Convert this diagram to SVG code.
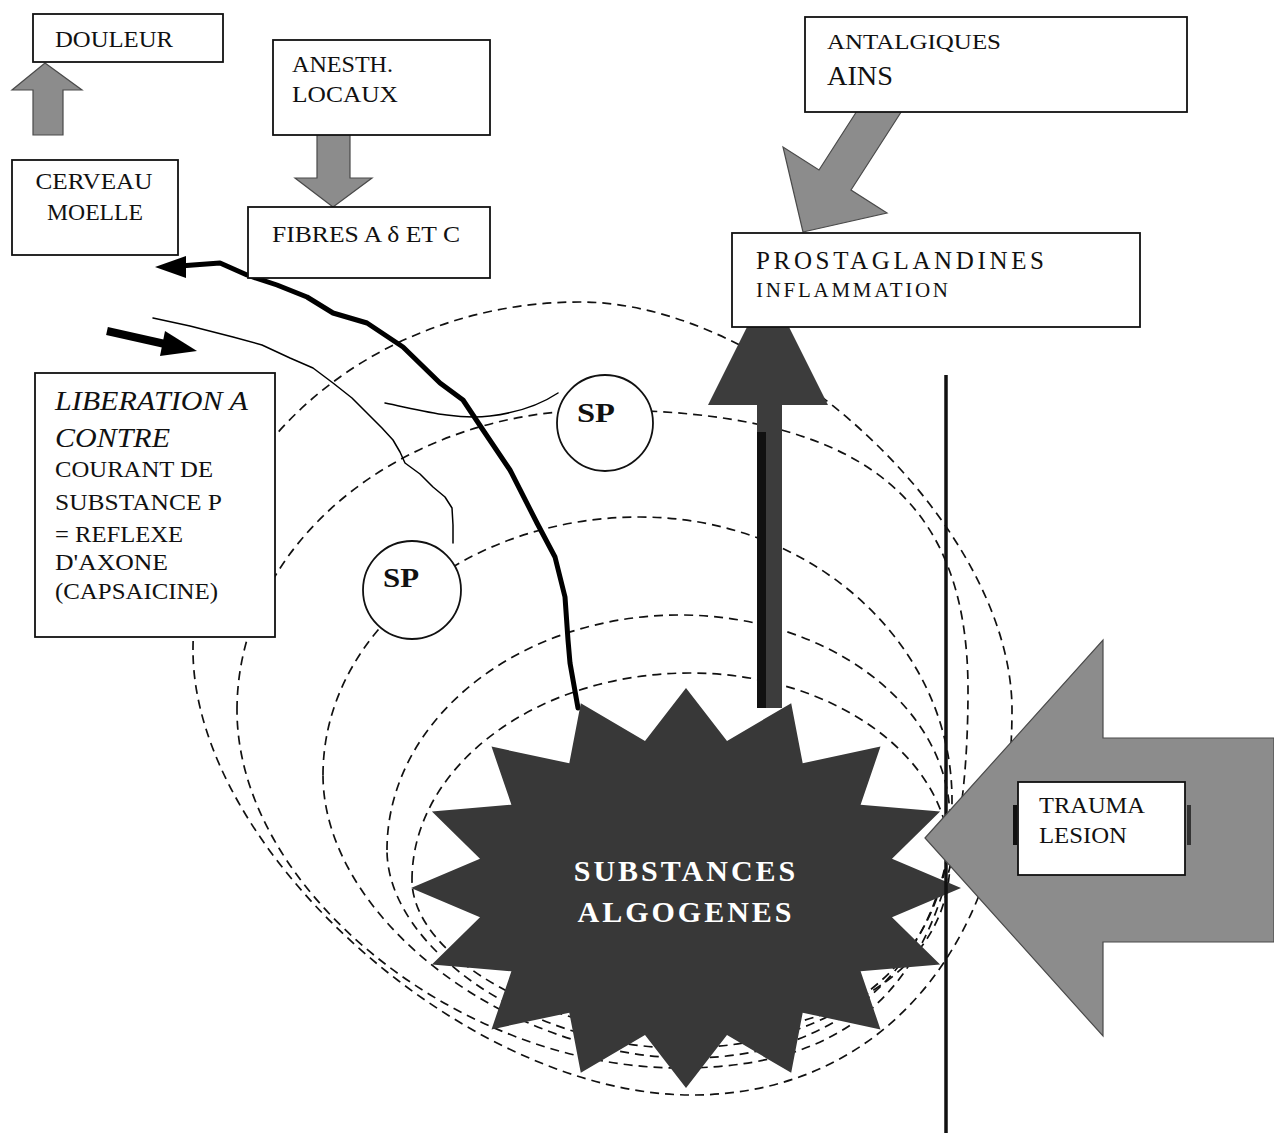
<svg xmlns="http://www.w3.org/2000/svg" width="1274" height="1135" viewBox="0 0 1274 1135">
<style>
.box{fill:#fff;stroke:#111;stroke-width:1.8}
.t{font-family:"Liberation Serif","Times New Roman",serif;fill:#111}
.ti{font-family:"Liberation Serif","Times New Roman",serif;font-style:italic;fill:#111}
.dash{fill:none;stroke:#111;stroke-width:1.7;stroke-dasharray:9 6;stroke-linejoin:round}
.grey{fill:#8c8c8c;stroke:#4a4a4a;stroke-width:1.2}
.dark{fill:#3c3c3c}
.fiber{fill:none;stroke:#000;stroke-linejoin:round;stroke-linecap:round}
.sp{fill:#fff;stroke:#111;stroke-width:1.8}
.spt{font-family:"Liberation Serif","Times New Roman",serif;font-weight:bold;fill:#111}
.wt{font-family:"Liberation Serif","Times New Roman",serif;font-weight:bold;fill:#fff}
</style>
<rect width="1274" height="1135" fill="#fff"/>

<g id="field-lines">
<path class="dash" d="M193,650 C193,458 366,302 580,302 C774,302 1012,526 1012,710 C1012,941 884,1095 692,1095 C467,1095 193,850 193,650 Z"/>
<path class="dash" d="M237,710 C237,544 400,410 600,410 C858,410 968,494 968,690 C968,955 882,1068 680,1068 C458,1068 237,889 237,710 Z"/>
<path class="dash" d="M323,775 C323,633 465,517 640,517 C812,517 952,644 952,800 C952,955 847,1058 690,1058 C507,1058 323,917 323,775 Z"/>
<path class="dash" d="M387,850 C387,720 518,615 680,615 C829,615 950,707 950,820 C950,957 842,1048 680,1048 C534,1048 387,949 387,850 Z"/>
<path class="dash" d="M412,880 C412,766 537,673 690,673 C833,673 950,757 950,860 C950,965 846,1035 690,1035 C551,1035 412,958 412,880 Z"/>
</g>

<g id="connectors">
<path id="fiber-thin-1" class="fiber" stroke-width="1.5" d="M153,318 L190,326 L233,337 L262,345 L290,358 L313,368 L333,383 L352,398 L367,413 L382,428 L393,440 L400,452 L405,463 L420,474 L433,487 L445,497 L452,508 L453,525 L453,543"/>
<path id="fiber-thin-2" class="fiber" stroke-width="1.5" d="M385,403 C420,410 455,420 490,416 C515,413 540,405 558,393"/>
<path id="fiber-main" class="fiber" stroke-width="5" d="M180,266 L193,265 L220,263 L247,275 L277,285 L307,297 L333,313 L367,323 L403,347 L440,383 L463,400 L483,430 L510,470 L537,523 L555,557 L565,597 L568,640 L570,663 L578,708"/>
<polygon id="fiber-main-head" points="155,267 186,256 186,278" fill="#000"/>
<g id="arrow-reflex">
<line x1="107" y1="331" x2="165" y2="344" stroke="#000" stroke-width="8"/>
<polygon points="197,351 165,331 160,356" fill="#000"/>
</g>
<polygon id="arrow-douleur" class="grey" points="45,63 82,90 63,90 63,135 33,135 33,90 12,90"/>
<polygon id="arrow-anesth" class="grey" points="317,130 350,130 350,178 372,178 333,207 295,178 317,178"/>
<polygon id="arrow-antalgiques" class="grey" points="803,232 887,213 851,190 932,64 900,44 819,170 783,147"/>
<g id="arrow-prostaglandines">
<polygon class="dark" points="768,285 828,405 782,405 782,708 757,708 757,405 708,405"/>
<rect x="757" y="432" width="9" height="276" fill="#111"/>
</g>
</g>

<g id="node-substances">
<polygon fill="#383838" points="961,888 892,858.7 940.1,811.5 860.6,804.7 880.5,746.6 802.7,763.3 791.2,703.2 727,740.9 686,688 645,740.9 580.8,703.2 569.3,763.3 491.5,746.6 511.4,804.7 431.9,811.5 480,858.7 411,888 480,917.3 431.9,964.5 511.4,971.3 491.5,1029.4 569.3,1012.7 580.8,1072.8 645,1035.1 686,1088 727,1035.1 791.2,1072.8 802.7,1012.7 880.5,1029.4 860.6,971.3 940.1,964.5 892,917.3"/>
<text class="wt" x="686" y="881" font-size="30" text-anchor="middle" letter-spacing="3">SUBSTANCES</text>
<text class="wt" x="686" y="922" font-size="30" text-anchor="middle" letter-spacing="3">ALGOGENES</text>
</g>

<line id="barrier" x1="946" y1="375" x2="946" y2="1133" stroke="#111" stroke-width="3.5"/>

<g id="node-trauma">
<polygon class="grey" points="925,838 1103,640 1103,738 1274,738 1274,942 1103,942 1103,1036"/>
<rect class="box" x="1018" y="782" width="167" height="93"/>
<rect x="1013" y="805" width="4" height="40" fill="#111"/>
<rect x="1187" y="805" width="4" height="40" fill="#333"/>
<text class="t" x="1039" y="813" font-size="24" textLength="106" lengthAdjust="spacingAndGlyphs">TRAUMA</text>
<text class="t" x="1039" y="843" font-size="24" textLength="88" lengthAdjust="spacingAndGlyphs">LESION</text>
</g>

<g id="node-sp-upper">
<circle class="sp" cx="605" cy="423" r="48"/>
<text class="spt" x="577" y="422" font-size="28" textLength="38" lengthAdjust="spacingAndGlyphs">SP</text>
</g>
<g id="node-sp-lower">
<circle class="sp" cx="412" cy="590" r="49"/>
<text class="spt" x="383" y="587" font-size="28" textLength="36" lengthAdjust="spacingAndGlyphs">SP</text>
</g>

<g id="node-douleur">
<rect class="box" x="33" y="14" width="190" height="48"/>
<text class="t" x="55" y="47" font-size="23" textLength="118" lengthAdjust="spacingAndGlyphs">DOULEUR</text>
</g>
<g id="node-cerveau">
<rect class="box" x="12" y="160" width="166" height="95"/>
<text class="t" x="94" y="189" font-size="24" text-anchor="middle" textLength="117" lengthAdjust="spacingAndGlyphs">CERVEAU</text>
<text class="t" x="95" y="220" font-size="24" text-anchor="middle" textLength="96" lengthAdjust="spacingAndGlyphs">MOELLE</text>
</g>
<g id="node-anesth">
<rect class="box" x="273" y="40" width="217" height="95"/>
<text class="t" x="292" y="72" font-size="24" textLength="101" lengthAdjust="spacingAndGlyphs">ANESTH.</text>
<text class="t" x="292" y="102" font-size="24" textLength="106" lengthAdjust="spacingAndGlyphs">LOCAUX</text>
</g>
<g id="node-fibres">
<rect class="box" x="248" y="207" width="242" height="71"/>
<text class="t" x="272" y="242" font-size="24" textLength="188" lengthAdjust="spacingAndGlyphs">FIBRES A δ  ET C</text>
</g>
<g id="node-antalgiques">
<rect class="box" x="805" y="17" width="382" height="95"/>
<text class="t" x="827" y="49" font-size="22" textLength="174" lengthAdjust="spacingAndGlyphs">ANTALGIQUES</text>
<text class="t" x="827" y="85" font-size="28" textLength="66" lengthAdjust="spacingAndGlyphs">AINS</text>
</g>
<g id="node-prostaglandines">
<rect class="box" x="732" y="233" width="408" height="94"/>
<text class="t" x="756" y="269" font-size="25" textLength="288">PROSTAGLANDINES</text>
<text class="t" x="756" y="297" font-size="21" textLength="192">INFLAMMATION</text>
</g>
<g id="node-liberation">
<rect class="box" x="35" y="373" width="240" height="264"/>
<text class="ti" x="55" y="410" font-size="28" textLength="193" lengthAdjust="spacingAndGlyphs">LIBERATION A</text>
<text class="ti" x="55" y="447" font-size="28" textLength="115" lengthAdjust="spacingAndGlyphs">CONTRE</text>
<text class="t" x="55" y="477" font-size="23" textLength="158" lengthAdjust="spacingAndGlyphs">COURANT DE</text>
<text class="t" x="55" y="510" font-size="23" textLength="167" lengthAdjust="spacingAndGlyphs">SUBSTANCE P</text>
<text class="t" x="55" y="542" font-size="23" textLength="128" lengthAdjust="spacingAndGlyphs">= REFLEXE</text>
<text class="t" x="55" y="570" font-size="23" textLength="113" lengthAdjust="spacingAndGlyphs">D'AXONE</text>
<text class="t" x="55" y="599" font-size="23" textLength="163" lengthAdjust="spacingAndGlyphs">(CAPSAICINE)</text>
</g>
</svg>
